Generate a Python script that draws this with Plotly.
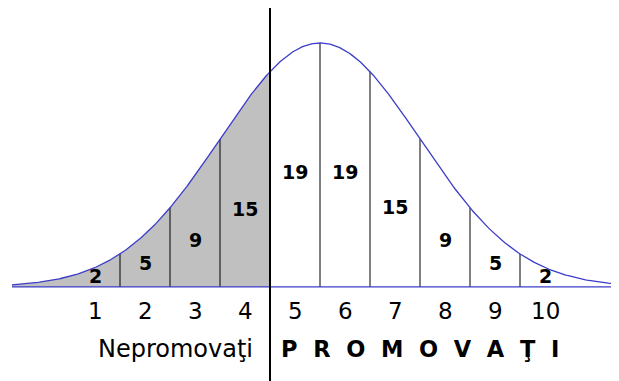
import plotly.graph_objects as go
import numpy as np

# date
note = [1, 2, 3, 4, 5, 6, 7, 8, 9, 10]
elevi = [2, 5, 9, 15, 19, 19, 15, 9, 5, 2]
limite = [1.5, 2.5, 3.5, 4.5, 5.5, 6.5, 7.5, 8.5, 9.5]
prag_promovare = 4.5
medie = 5.5
abatere = 2.0
total = sum(elevi)

# pozitia verticala a etichetelor cu numarul de elevi
eticheta_y = [0.9, 2.0, 3.8, 6.4, 9.4, 9.4, 6.5, 3.8, 2.0, 0.9]

# pagina are o margine de 8px, figura e mai mica si axele decalate ca sa compenseze
x_min, x_max = -0.74, 11.48
y_min, y_max = -7.69, 22.81


def curba(x):
    x = np.asarray(x, dtype=float)
    return total / (abatere * np.sqrt(2 * np.pi)) * np.exp(-0.5 * ((x - medie) / abatere) ** 2)


albastru = "#3c3cc8"
font = "DejaVu Sans"

xs = np.linspace(-0.66, x_max, 400)
xs_stanga = np.linspace(-0.66, prag_promovare, 200)

fig = go.Figure()

# zona nepromovati (gri)
fig.add_trace(go.Scatter(
    x=xs_stanga, y=curba(xs_stanga), mode="lines", fill="tozeroy",
    fillcolor="#c0c0c0", line=dict(width=0), hoverinfo="skip"
))

# linii verticale intre note
vx, vy = [], []
for b in limite:
    vx += [b, b, None]
    vy += [0, float(curba(b)), None]
fig.add_trace(go.Scatter(x=vx, y=vy, mode="lines",
                         line=dict(color="black", width=1), hoverinfo="skip"))

# axa de baza si curba
fig.add_trace(go.Scatter(x=[-0.66, x_max], y=[0, 0], mode="lines",
                         line=dict(color=albastru, width=1.3), hoverinfo="skip"))
fig.add_trace(go.Scatter(x=xs, y=curba(xs), mode="lines",
                         line=dict(color=albastru, width=1.3), hoverinfo="skip"))

# pragul de promovare
fig.add_trace(go.Scatter(x=[prag_promovare, prag_promovare], y=[y_max, y_min], mode="lines",
                         line=dict(color="black", width=2), hoverinfo="skip"))

annotations = []
for n, e, ey in zip(note, elevi, eticheta_y):
    annotations.append(dict(x=n, y=ey, text=str(e), showarrow=False,
                            font=dict(family=font, size=19, color="black", weight="bold")))
    annotations.append(dict(x=n, y=-1.96, text=str(n), showarrow=False,
                            font=dict(family=font, size=23, color="black")))

annotations.append(dict(x=2.6, y=-5.07, text="Nepromovaţi", showarrow=False,
                        font=dict(family=font, size=24, color="black")))
sp = "\u00a0\u00a0"
annotations.append(dict(x=7.5, y=-5.07, text=sp.join("PROMOVAŢI"), showarrow=False,
                        font=dict(family=font, size=22.5, color="black", weight="bold")))

fig.update_layout(
    width=611, height=373,
    margin=dict(l=0, r=0, t=0, b=0),
    paper_bgcolor="white", plot_bgcolor="white",
    showlegend=False,
    xaxis=dict(range=[x_min, x_max], visible=False),
    yaxis=dict(range=[y_min, y_max], visible=False),
    annotations=annotations,
)

fig.write_html("out.html")
